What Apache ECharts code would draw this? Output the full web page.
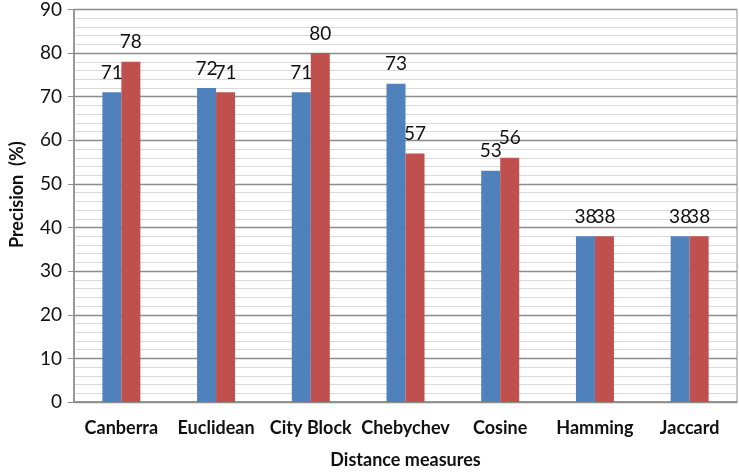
<!DOCTYPE html>
<html>
<head>
<meta charset="utf-8">
<script src="https://cdn.jsdelivr.net/npm/echarts@6/dist/echarts.min.js"></script>
<style>html,body{margin:0;padding:0;background:#fff;overflow:hidden;}#c{width:739px;height:474px;}</style>
</head>
<body>
<div id="c"></div>
<script>
var categories = ['Canberra', 'Euclidean', 'City Block', 'Chebychev', 'Cosine', 'Hamming', 'Jaccard'];
var seriesA = [71, 72, 71, 73, 53, 38, 38];
var seriesB = [78, 71, 80, 57, 56, 38, 38];
var yTicks = [0, 10, 20, 30, 40, 50, 60, 70, 80, 90];

var FONT = 'Lato';
var chart = echarts.init(document.getElementById('c'));
var labelStyle = { show: true, position: 'top', distance: 10, fontFamily: FONT, fontSize: 19, color: '#111' };
chart.setOption({
  animation: false,
  textStyle: { fontFamily: FONT },
  grid: { left: 66, right: 2, top: 7, bottom: 66, show: true, borderColor: '#8c8c8c', borderWidth: 1, backgroundColor: 'transparent' },
  xAxis: {
    type: 'category',
    data: categories,
    axisLine: { lineStyle: { color: '#8c8c8c', width: 1.5 } },
    axisTick: { show: false },
    axisLabel: { interval: 0, fontFamily: FONT, fontWeight: 'bold', fontSize: 18, color: '#111', margin: 17 },
    name: 'Distance measures',
    nameLocation: 'middle',
    nameGap: 49,
    nameTextStyle: { fontFamily: FONT, fontWeight: 'bold', fontSize: 18, color: '#111' }
  },
  yAxis: {
    type: 'value',
    min: yTicks[0],
    max: yTicks[yTicks.length - 1],
    interval: 10,
    axisLine: { show: true, lineStyle: { color: '#8c8c8c', width: 1.5 } },
    axisTick: { show: true, inside: false, length: 6, lineStyle: { color: '#8c8c8c' } },
    axisLabel: { fontFamily: FONT, fontSize: 19, color: '#111', margin: 12 },
    splitLine: { show: true, lineStyle: { color: '#8c8c8c', width: 1.3 } },
    minorTick: { show: false, splitNumber: 5 },
    minorSplitLine: { show: true, lineStyle: { color: '#d9d9d9', width: 1 } },
    name: 'Precision  (%)',
    nameLocation: 'middle',
    nameGap: 48,
    nameTextStyle: { fontFamily: FONT, fontWeight: 'bold', fontSize: 18, color: '#111', padding: [0, 0, 0, 22] }
  },
  series: [
    { type: 'bar', data: seriesA, barWidth: 19, barGap: '0%', itemStyle: { color: '#4F81BD' }, label: labelStyle },
    { type: 'bar', data: seriesB, barWidth: 19, barGap: '0%', itemStyle: { color: '#C0504D' }, label: labelStyle }
  ]
});
</script>
</body>
</html>
